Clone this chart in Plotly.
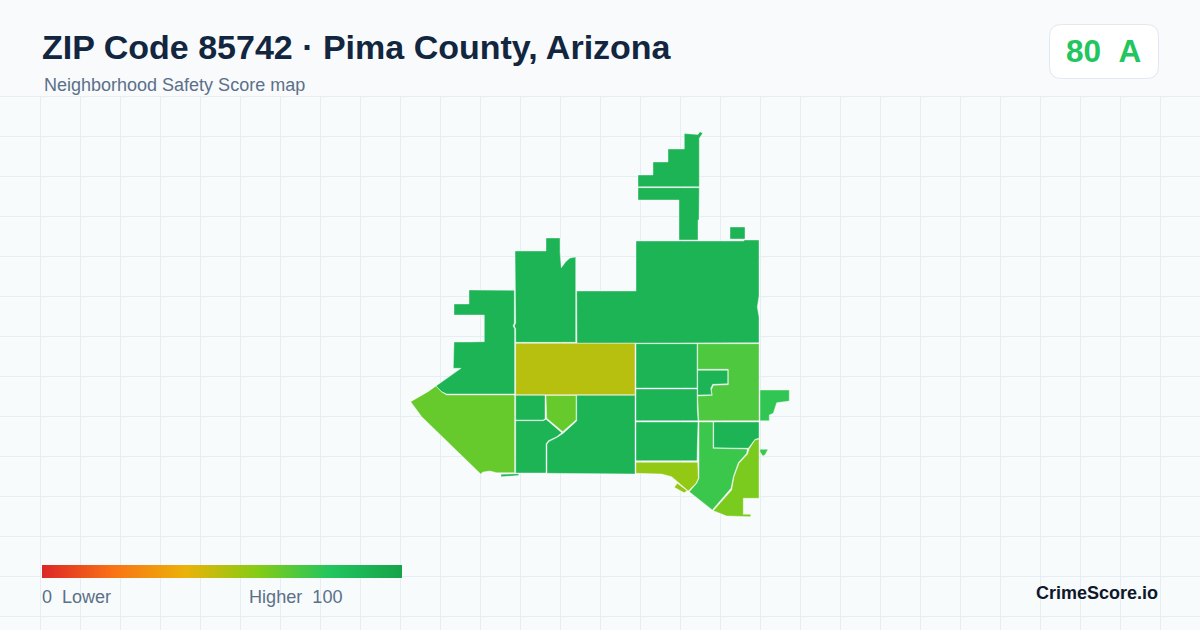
#!/usr/bin/env python3
"""ZIP 85742 safety score map, tract outlines traced from the picture (map units = canvas px)"""

import plotly.graph_objects as go
from plotly.colors import sample_colorscale

FONT = "Liberation Sans"
HEADER_BG = "#f8fafc"
BG = "#f8fbfc"
GRID = "#e6eef3"

TITLE = "ZIP Code 85742 · Pima County, Arizona"
SUBTITLE = "Neighborhood Safety Score map"
BADGE = "80\u00a0\u00a0A"
BRAND = "CrimeScore.io"

# score legend
SCORE_STOPS = [0, 20, 40, 60, 80, 100]
SCORE_COLORS = ["#dc2626", "#f97316", "#eab308", "#84cc16", "#22c55e", "#16a34a"]

# tract outlines
north_top = [(684.3, 133.5), (698, 134.5), (700, 131.7), (702.7, 133.3), (699.3, 138.3), (699.3, 186.7),
             (638, 186.7), (638, 175), (653, 175), (653, 162), (668, 162), (668, 149), (684.3, 149)]
north_neck = [(638, 187.7), (699.3, 187.7), (699, 220), (698, 220), (698, 240), (679, 240), (679, 200), (638, 200)]
north_square = [(730, 227), (745, 227), (745, 239), (730, 239)]
northeast = [(636, 241), (744, 241), (744, 240), (759, 240), (759, 296), (757.3, 307), (759, 317), (759, 342.7),
             (577, 343.3), (576.7, 291), (636, 291)]
north_central = [(515, 251), (546, 251), (546, 238), (560, 238), (560, 252.3), (561.3, 267.7), (565.7, 261.7),
                 (570, 258), (575.7, 257), (575.7, 342.3), (515.7, 342.3), (515.7, 328.7), (514.3, 326), (515.7, 323)]
west = [(469, 290), (488, 290), (514.3, 290.3), (514.3, 323), (513, 326), (514.6, 328.7), (514.6, 394),
        (446.7, 394), (441.7, 391.7), (436, 386), (461, 368.3), (453.3, 368.3), (453.3, 357.3), (454, 342),
        (469, 342), (484.3, 341.7), (484.3, 315), (454, 315), (454, 304), (469, 304)]
west_large = [(436, 386), (441.7, 392), (446.7, 394.9), (514.6, 394.9), (514.6, 472.7), (496.7, 472.7), (490, 471),
              (483, 472), (480.7, 474), (421.7, 416.7), (410.7, 401.7), (420, 396.7), (428, 391.7)]
west_sliver = [(501, 474.3), (518.7, 473.7), (518.7, 475.5), (501, 476.7)]
center = [(515.7, 343.3), (635, 343.3), (635, 394.7), (515.7, 394.7)]
south_square = [(515.7, 395.3), (545, 395.3), (545, 418.3), (543.3, 420), (515.7, 420)]
pentagon = [(546, 395.5), (576, 395.5), (576, 420), (562.7, 431.7), (546.7, 418.3)]
south_west = [(515.7, 420.7), (543.3, 420.7), (546, 419.3), (561.7, 432.7), (556.7, 436.7), (548.3, 440.7),
              (546, 444), (546, 473), (515.7, 473)]
south_mid = [(576.7, 395.3), (635, 395.3), (635, 474), (547, 473.3), (547, 444), (549.3, 441.3), (557.3, 437.3),
             (563.3, 433.3), (576.7, 421)]
column_a = [(636, 343.7), (697, 343.7), (697, 388), (636, 388)]
column_b = [(636, 389), (697, 389), (697.3, 410), (698, 420.7), (636, 420.7)]
column_c = [(636, 422), (698, 422), (697.3, 446.7), (697, 460.7), (636, 460.7)]
olive = [(636, 462.3), (697.7, 462.3), (698.3, 478.3), (696, 483.3), (688.3, 491), (678.3, 482.3), (671.7, 476.7),
         (661.7, 474), (636, 473.3)]
olive_bit = [(677.3, 483.3), (674.3, 487.3), (684, 492.7), (687.3, 490.7)]
east_large = [(697.7, 343.7), (759, 343.7), (759, 420.7), (698.7, 420.7), (697.7, 396), (712.3, 395.3), (711.3, 390),
              (713.3, 385.3), (728.3, 384.7), (728.3, 369.3), (697.7, 369.3)]
east_inner = [(697.7, 370.3), (727.7, 370.3), (727.7, 383.7), (712.7, 384.3), (710.7, 388.3), (711.7, 394.7), (697.7, 395)]
east_tab = [(760, 390), (789.3, 390), (789.3, 401), (776.7, 402.7), (773.3, 413.3), (769.3, 415), (769.3, 420.7), (760, 420.7)]
southeast_block = [(713.7, 422), (759, 422), (759, 438.3), (755, 439.3), (748.3, 448.3), (730, 447.7), (713.7, 447.7)]
southeast_band = [(699, 422), (713, 422), (713, 448.3), (730, 448.7), (747.3, 449), (746.7, 453.3), (738.3, 462.7),
                  (733.3, 476.7), (731, 488.3), (712.3, 510), (689.3, 491.7), (696.7, 483.3), (699, 478.3)]
southeast_lime = [(758.3, 439.3), (759, 439.3), (759, 498.3), (743.3, 498.3), (743.3, 514.3), (750.7, 514.3),
                  (750.7, 516.7), (726.7, 516), (713.3, 510.7), (731.7, 490), (734, 476.7), (739, 463.3), (747.7, 454),
                  (749, 449), (755, 440)]
east_bit = [(760, 449.3), (768, 449.3), (765, 455), (762.7, 456), (760, 451.7)]

TRACTS = [north_top, north_neck, north_square, northeast, north_central, west, west_large, west_sliver, center,
          south_square, pentagon, south_west, south_mid, column_a, column_b, column_c, olive, olive_bit, east_large,
          east_inner, east_tab, southeast_block, southeast_band, southeast_lime, east_bit]
SCORES = [90, 90, 90, 90, 90, 90, 66, 90, 50,
          90, 66, 90, 90, 90, 90, 90, 57, 57, 71,
          90, 77, 90, 75, 62, 75]

colorscale = [[s / 100, c] for s, c in zip(SCORE_STOPS, SCORE_COLORS)]

fig = go.Figure()

for outline, score in zip(TRACTS, SCORES):
    xs = [p[0] for p in outline] + [outline[0][0]]
    ys = [p[1] for p in outline] + [outline[0][1]]
    fig.add_trace(go.Scatter(
        x=xs, y=ys, mode="lines", fill="toself",
        fillcolor=sample_colorscale(colorscale, score / 100)[0],
        line=dict(color="#ffffff", width=0.4),
        hoverinfo="skip", showlegend=False,
    ))

# colorbar of an empty trace gives the legend ramp
fig.add_trace(go.Scatter(
    x=[None], y=[None], mode="markers", showlegend=False,
    marker=dict(
        color=[0], cmin=0, cmax=100, colorscale=colorscale, showscale=True,
        colorbar=dict(
            orientation="h", x=42 / 1200, xanchor="left", y=52 / 630, yanchor="bottom",
            lenmode="pixels", len=360, thicknessmode="pixels", thickness=13,
            xpad=0, ypad=0, outlinewidth=0, ticks="", showticklabels=False,
        ),
    ),
))


def label(text, x, y, size, color, anchor="left", bold=False):
    fig.add_annotation(
        x=x, y=y, text=f"<b>{text}</b>" if bold else text, showarrow=False,
        xanchor=anchor, yanchor="middle", borderpad=0, borderwidth=0,
        font=dict(family=FONT, size=size, color=color),
    )


label(TITLE, 42, 47, 34, "#12263f", bold=True)
label(SUBTITLE, 44, 85, 18, "#5b7089")
label(BADGE, 1103.5, 51, 31.5, "#22c55e", anchor="center", bold=True)
label("0\u00a0\u00a0Lower", 42, 597, 18, "#5b7089")
label("Higher\u00a0\u00a0100", 249, 597, 18.1, "#5b7089")
label(BRAND, 1158, 593, 18, "#0f172a", anchor="right", bold=True)

# header band hides the vertical grid, badge sits on it
fig.add_shape(type="rect", x0=0, x1=1200, y0=0, y1=96, layer="between", fillcolor=HEADER_BG, line=dict(width=0))
fig.add_shape(
    type="path", layer="between", fillcolor="#ffffff", line=dict(color="#e2e8f0", width=1),
    path="M 1061.5 24.5 H 1146.5 Q 1158.5 24.5 1158.5 36.5 V 66.5 Q 1158.5 78.5 1146.5 78.5 H 1061.5 "
         "Q 1049.5 78.5 1049.5 66.5 V 36.5 Q 1049.5 24.5 1061.5 24.5 Z",
)

fig.update_xaxes(
    range=[0, 1200], tick0=0.5, dtick=40, showgrid=True, gridcolor=GRID, gridwidth=1,
    zeroline=False, showticklabels=False, ticks="", showline=False, fixedrange=True,
)
fig.update_yaxes(
    range=[630, 0], tickvals=[96.5 + 40 * i for i in range(14)], showgrid=True, gridcolor=GRID, gridwidth=1,
    zeroline=False, showticklabels=False, ticks="", showline=False, fixedrange=True,
)
fig.update_layout(
    width=1200, height=630,
    margin=dict(l=0, r=0, t=0, b=0),
    paper_bgcolor=BG, plot_bgcolor=BG,
    showlegend=False,
)

fig.write_html(
    "out.html",
    config={"displayModeBar": False},
    post_script="document.body.style.margin='0';document.body.style.overflow='hidden';",
)
